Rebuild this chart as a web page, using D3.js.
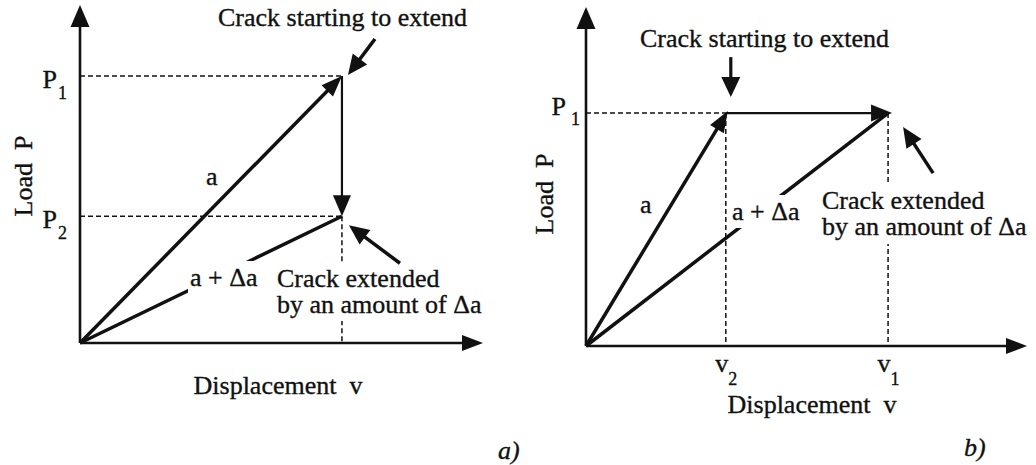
<!DOCTYPE html>
<html>
<head>
<meta charset="utf-8">
<script src="https://cdn.jsdelivr.net/npm/d3@7"></script>
<style>
  html, body { margin: 0; padding: 0; background: #fff; }
  svg text { fill: #111; stroke: #111; stroke-width: 0.35px; white-space: pre; }
</style>
</head>
<body>
<svg id="chart" width="1036" height="465"></svg>
<script>
// Panel a): load levels P1, P2 and the displacement at which the crack grows (axis units 0–10)
const aLoads = [7.9, 3.75];
const aLoadSubs = ["1", "2"];
const aCrackDisp = 6.5;

// Panel b): load level P1 and the displacements v2 (start) and v1 (after growth)
const bLoad = 6.87;
const bDisps = [3.17, 6.85];
const bDispSubs = ["2", "1"];

// Text
const lineNames = ["a", "a + \u0394a"];
const noteStart = "Crack starting to extend";
const noteExtended = ["Crack extended", "by an amount of \u0394a"];
const axisTitles = ["Displacement  v", "Load  P"];
const panelTags = ["a)", "b)"];

const ink = "#111";
const serif = "'Liberation Serif', 'Times New Roman', serif";
const svg = d3.select("#chart");

const xa = d3.scaleLinear().domain([0, 10]).range([80, 483]);
const ya = d3.scaleLinear().domain([0, 10]).range([343, 5]);
const xb = d3.scaleLinear().domain([0, 10]).range([586, 1027]);
const yb = d3.scaleLinear().domain([0, 10]).range([346, 7]);

// filled triangular arrowhead with its tip at (x2, y2), pointing along (x1,y1)->(x2,y2)
function head(g, x1, y1, x2, y2, len, hw) {
  const a = Math.atan2(y2 - y1, x2 - x1);
  const bx = x2 - len * Math.cos(a), by = y2 - len * Math.sin(a);
  const px = -Math.sin(a) * hw, py = Math.cos(a) * hw;
  g.append("path")
    .attr("d", `M${x2},${y2}L${bx + px},${by + py}L${bx - px},${by - py}Z`)
    .attr("fill", ink);
}
// straight arrow: shaft stops inside the head so the tip stays sharp
function arrow(g, x1, y1, x2, y2, width, len, hw, withHead = true) {
  const a = Math.atan2(y2 - y1, x2 - x1);
  const cut = withHead ? len * 0.6 : 0;
  g.append("line")
    .attr("x1", x1).attr("y1", y1)
    .attr("x2", x2 - cut * Math.cos(a)).attr("y2", y2 - cut * Math.sin(a))
    .attr("stroke", ink).attr("stroke-width", width);
  if (withHead) head(g, x1, y1, x2, y2, len, hw);
}
function dashed(g, x1, y1, x2, y2) {
  g.append("line")
    .attr("x1", x1).attr("y1", y1).attr("x2", x2).attr("y2", y2)
    .attr("stroke", ink).attr("stroke-width", 1.5)
    .attr("stroke-dasharray", "5,3");
}
// each text line on a white patch that interrupts the lines running beneath
function label(g, x, y, lines, lead, pad) {
  const grp = g.append("g");
  lines.forEach((s, i) => {
    const rect = grp.append("rect").attr("fill", "#fff");
    const t = grp.append("text").attr("x", x).attr("y", y + i * lead)
      .style("font-family", serif).attr("font-size", 26).text(s);
    const bb = t.node().getBBox();
    rect.attr("x", bb.x - pad).attr("y", bb.y - pad)
      .attr("width", bb.width + 2 * pad).attr("height", bb.height + 2 * pad);
  });
  return grp;
}
function text(g, x, y, s, opts = {}) {
  const t = g.append("text").attr("x", x).attr("y", y)
    .style("font-family", serif)
    .attr("font-size", opts.size || 26)
    .attr("text-anchor", opts.anchor || "start")
    .text(s);
  if (opts.italic) t.attr("font-style", "italic");
  if (opts.rotate) t.attr("transform", `rotate(-90,${x},${y})`);
  return t;
}
// subscripted tick labels, e.g. P₁ or v₂
function subscriptTicks(axisG, base, subs, dy, subDy, gap) {
  axisG.attr("font-size", null).attr("font-family", null);
  axisG.select(".domain").remove();
  axisG.selectAll(".tick text").each(function (d, i) {
    const t = d3.select(this).text(null).attr("dy", dy)
      .style("font-family", serif).attr("font-size", 26).attr("fill", ink);
    t.append("tspan").text(base);
    t.append("tspan").attr("font-size", 18).attr("dx", gap).attr("dy", subDy).text(subs[i]);
  });
}

/* ---------------- panel a) ---------------- */
const ga = svg.append("g");
const oA = [xa(0), ya(0)];
const cA = xa(aCrackDisp);

// guides to the axes
dashed(ga, xa(0), ya(aLoads[0]), cA, ya(aLoads[0]));
dashed(ga, xa(0), ya(aLoads[1]), cA, ya(aLoads[1]));
dashed(ga, cA, ya(aLoads[1]), cA, ya(0));

// axes with arrowheads
arrow(ga, oA[0], oA[1], xa(0), ya(10), 2.6, 22, 9.5);
arrow(ga, oA[0], oA[1], xa(10), ya(0), 2.6, 21, 8);
ga.append("g").attr("transform", `translate(${xa(0)},0)`)
  .call(d3.axisLeft(ya).tickValues(aLoads).tickSize(0).tickPadding(13).tickFormat(() => ""))
  .call(g => subscriptTicks(g, "P", aLoadSubs, "0.43em", 11, 1));

// compliance lines: crack length a, then a + Δa
arrow(ga, oA[0], oA[1], cA, ya(aLoads[0]), 3.5, 21, 8);
arrow(ga, oA[0], oA[1], cA, ya(aLoads[1]), 3.5, 0, 0, false);
// load drop at fixed displacement
arrow(ga, cA, ya(aLoads[0]), cA, ya(aLoads[1]), 2.2, 21, 9);

text(ga, 206, 185, lineNames[0]);
label(ga, 190, 286, [lineNames[1]], 0, 2);
label(ga, 277, 287, noteExtended, 26, 2);
text(ga, 218, 26, noteStart);

// pointers to the two states
arrow(ga, cA + 33, ya(aLoads[0]) - 37, cA + 6, ya(aLoads[0]) - 1, 3.5, 20, 9);
arrow(ga, cA + 58, ya(aLoads[1]) + 47, cA + 7, ya(aLoads[1]) + 9, 3.5, 20, 9);

text(ga, 278, 394, axisTitles[0], { anchor: "middle" });
text(ga, 32, 176, axisTitles[1], { anchor: "middle", rotate: true });
text(ga, 498, 459, panelTags[0], { italic: true });

/* ---------------- panel b) ---------------- */
const gb = svg.append("g");
const oB = [xb(0), yb(0)];
const v2 = xb(bDisps[0]), v1 = xb(bDisps[1]), pB = yb(bLoad);

dashed(gb, xb(0), pB, v2, pB);
dashed(gb, v2, pB, v2, yb(0));
dashed(gb, v1, pB, v1, yb(0));

arrow(gb, oB[0], oB[1], xb(0), yb(10), 2.6, 22, 9.5);
arrow(gb, oB[0], oB[1], xb(10), yb(0), 2.6, 21, 8);
gb.append("g").attr("transform", `translate(${xb(0)},0)`)
  .call(d3.axisLeft(yb).tickValues([bLoad]).tickSize(0).tickPadding(6).tickFormat(() => ""))
  .call(g => subscriptTicks(g, "P", ["1"], "0.07em", 10, 5));
gb.append("g").attr("transform", `translate(0,${yb(0)})`)
  .call(d3.axisBottom(xb).tickValues(bDisps).tickSize(0).tickPadding(26).tickFormat(() => ""))
  .call(g => subscriptTicks(g, "v", bDispSubs, "0", 13, 0));

// compliance lines and growth at constant load
arrow(gb, oB[0], oB[1], v2 + 2, pB - 2, 3.5, 21, 8);
arrow(gb, oB[0], oB[1], v1, pB, 3.5, 0, 0, false);
arrow(gb, v2, pB, v1 + 4, pB, 2.4, 21, 8.5);

text(gb, 640, 213, lineNames[0]);
label(gb, 732, 220, [lineNames[1]], 0, 2);
label(gb, 822, 209, noteExtended, 26, 3);
text(gb, 640, 47, noteStart);

arrow(gb, v2 + 5, pB - 56, v2 + 5, pB - 16, 3.2, 20, 9.5);
arrow(gb, v1 + 45, pB + 60, v1 + 15, pB + 14, 3.5, 20, 9);

text(gb, 812, 413, axisTitles[0], { anchor: "middle" });
text(gb, 553, 194, axisTitles[1], { anchor: "middle", rotate: true });
text(gb, 964, 456, panelTags[1], { italic: true });
</script>
</body>
</html>
